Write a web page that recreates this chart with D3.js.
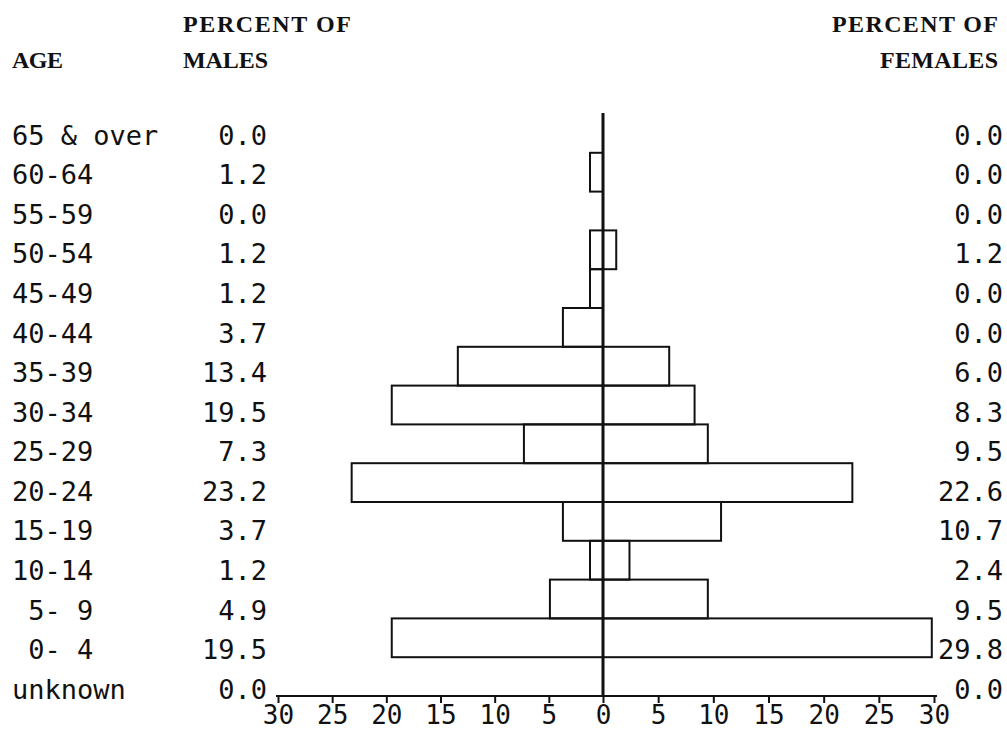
<!DOCTYPE html>
<meta charset="utf-8">
<style>
    body {
        margin: 0;
        background: #fff;
    }

    .head {
        font: bold 24px "Liberation Serif", serif;
        fill: #111;
    }

    .lab {
        font: 27px "DejaVu Sans Mono", monospace;
        fill: #111;
        white-space: pre;
    }

    .axis path,
    .axis line {
        stroke: #111;
        stroke-width: 2;
    }

    .axis text {
        font: 26px "DejaVu Sans Mono", monospace;
        fill: #111;
    }

    .bar {
        fill: none;
        stroke: #111;
        stroke-width: 2;
    }
</style>

<body>
    <script src="https://d3js.org/d3.v7.min.js"></script>
    <script>

        var ages = ["65 & over", "60-64", "55-59", "50-54", "45-49", "40-44", "35-39",
            "30-34", "25-29", "20-24", "15-19", "10-14", " 5- 9", " 0- 4", "unknown"];
        var males = [0.0, 1.2, 0.0, 1.2, 1.2, 3.7, 13.4, 19.5, 7.3, 23.2, 3.7, 1.2, 4.9, 19.5, 0.0];
        var females = [0.0, 0.0, 0.0, 1.2, 0.0, 0.0, 6.0, 8.3, 9.5, 22.6, 10.7, 2.4, 9.5, 29.8, 0.0];
        var xTicks = [-30, -25, -20, -15, -10, -5, 0, 5, 10, 15, 20, 25, 30];

        var width = 1007,
            height = 732;

        var svg = d3.select("body").append("svg")
            .attr("width", width)
            .attr("height", height);

        // males to the left, females to the right of the centre line
        var x = d3.scaleLinear().domain([-30, 0, 30]).range([278, 603, 934]);
        var y = d3.scaleBand().domain(ages).range([114, 696]);
        var yl = d3.scalePoint().domain(ages).range([135, 689]);

        var rows = ages.map(function (a, i) {
            return { age: a, m: males[i], f: females[i] };
        });

        // headings (typewriter pitch, so stretch to the measured widths)
        function head(txt, xx, yy, len, anchor) {
            svg.append("text").attr("class", "head")
                .attr("x", xx).attr("y", yy)
                .attr("text-anchor", anchor || "start")
                .attr("textLength", len)
                .attr("lengthAdjust", "spacing")
                .text(txt);
        }
        head("AGE", 12, 68, 51);
        head("PERCENT OF", 183, 32, 168);
        head("MALES", 183, 68, 85);
        head("PERCENT OF", 998, 32, 166, "end");
        head("FEMALES", 998, 68, 118, "end");

        // row labels
        svg.selectAll(".age")
            .data(rows)
            .enter().append("text")
            .attr("class", "lab")
            .attr("x", 12)
            .attr("y", function (d) { return yl(d.age); })
            .attr("dy", "0.36em")
            .text(function (d) { return d.age; });

        svg.selectAll(".mval")
            .data(rows)
            .enter().append("text")
            .attr("class", "lab")
            .attr("x", 267)
            .attr("y", function (d) { return yl(d.age); })
            .attr("dy", "0.36em")
            .attr("text-anchor", "end")
            .text(function (d) { return d.m.toFixed(1); });

        svg.selectAll(".fval")
            .data(rows)
            .enter().append("text")
            .attr("class", "lab")
            .attr("x", 1003)
            .attr("y", function (d) { return yl(d.age); })
            .attr("dy", "0.36em")
            .attr("text-anchor", "end")
            .text(function (d) { return d.f.toFixed(1); });

        // bars
        svg.selectAll(".mbar")
            .data(rows.filter(function (d) { return d.m > 0; }))
            .enter().append("rect")
            .attr("class", "bar")
            .attr("x", function (d) { return x(-d.m); })
            .attr("y", function (d) { return y(d.age); })
            .attr("width", function (d) { return x(0) - x(-d.m); })
            .attr("height", y.bandwidth());

        svg.selectAll(".fbar")
            .data(rows.filter(function (d) { return d.f > 0; }))
            .enter().append("rect")
            .attr("class", "bar")
            .attr("x", x(0))
            .attr("y", function (d) { return y(d.age); })
            .attr("width", function (d) { return x(d.f) - x(0); })
            .attr("height", y.bandwidth());

        // bottom axis
        var axis = svg.append("g")
            .attr("class", "axis")
            .attr("transform", "translate(0," + y.range()[1] + ")")
            .call(d3.axisBottom(x)
                .tickValues(xTicks)
                .tickSize(7)
                .tickSizeOuter(0)
                .tickPadding(3)
                .tickFormat(function (d) { return Math.abs(d); }));
        axis.select(".domain").attr("d", "M" + (x(-30) - 2) + ",0H" + (x(30) + 3));

        // centre line
        svg.append("line")
            .attr("x1", x(0)).attr("x2", x(0))
            .attr("y1", 113).attr("y2", y.range()[1])
            .attr("stroke", "#111")
            .attr("stroke-width", 3);

    </script>
